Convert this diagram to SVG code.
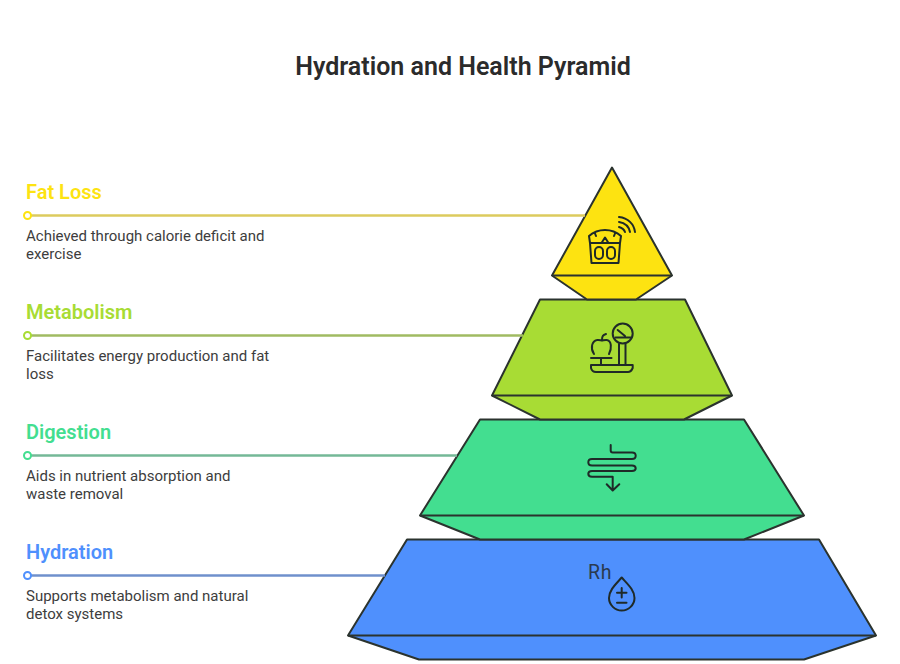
<svg xmlns="http://www.w3.org/2000/svg" width="900" height="664" viewBox="0 0 900 664">
<style>
text{font-family:Roboto,"Liberation Sans",sans-serif}
.title{font-size:25px;font-weight:600;fill:#2b2b2b}
.head{font-size:20px;font-weight:600}
.body{font-size:15px;fill:#3d3d3d}
.rh{font-size:19.500px;fill:#2a3a50;letter-spacing:.8px}
.shape{stroke:#2b332e;stroke-width:2;stroke-linejoin:round}
.icon{fill:none;stroke:#1f2a28;stroke-width:2;stroke-linecap:round;stroke-linejoin:round}
.lead{fill:none;stroke-width:2.500}
.dot{fill:#fff;stroke-width:2}
</style>
<rect width="900" height="664" fill="#fff"/>
<text class="title" x="463" y="75" text-anchor="middle">Hydration and Health Pyramid</text>

<g id="node-hydration">
<path class="shape" fill="#4f90fd" d="M407 539.500H819L876 635.500L804 659.500H419L348 635.500Z"/>
<path class="shape" fill="none" d="M348 635.500H876"/>
<text class="rh" x="588" y="578.500">Rh</text>
<path class="icon" d="M621.700 577.500C616 584 609 590 609 598C609 605 615 610.500 621.700 610.500C628.500 610.500 634.500 605 634.500 598C634.500 590 627.500 584 621.700 577.500Z"/>
<path class="icon" d="M617 592.700H626.500M621.700 588V597.500M617 602.700H626.500"/>
<text class="head" x="26" y="559" fill="#4f90fd">Hydration</text>
<text class="body" x="26" y="601">Supports metabolism and natural</text>
<text class="body" x="26" y="619">detox systems</text>
</g>

<g id="node-digestion">
<path class="shape" fill="#43de90" d="M480 419.500H744L804 515.500L744 539.500H480L420 515.500Z"/>
<path class="shape" fill="none" d="M420 515.500H804"/>
<path class="icon" d="M610.700 445V450.500Q610.700 452.500 612.700 452.500H632Q635.700 452.500 635.700 455.800Q635.700 459 632 459H592Q588.300 459 588.300 462.300Q588.300 465.500 592 465.500H632Q635.700 465.500 635.700 468.300Q635.700 471 632 471H592Q588.300 471 588.300 473.800Q588.300 476.700 592 476.700H612.700V490M606.700 484.300L612.700 490.500L619.300 484.300"/>
<text class="head" x="26" y="439" fill="#43de90">Digestion</text>
<text class="body" x="26" y="481">Aids in nutrient absorption and</text>
<text class="body" x="26" y="499">waste removal</text>
</g>

<g id="node-metabolism">
<path class="shape" fill="#a8dc34" d="M540 299.500H685L732 395.500L684 419.500H540L492 395.500Z"/>
<path class="shape" fill="none" d="M492 395.500H732"/>
<circle class="icon" cx="622.700" cy="333.500" r="10"/>
<path class="icon" d="M617.700 330L625 336M615.500 337.500H631M619 344V364M625.500 344V364"/>
<path class="icon" d="M591 365H632.700V368Q631 372 628 372H596Q592 372 591 368ZM591 358H611.500M601 358V365"/>
<path class="icon" d="M594 354C590 348 592 341 597 340C599 339.500 601 340.500 602 340.500C603 340.500 605 339.500 607 340C611.500 341 612 348 609 354M602 340C602 336 603 335 606 334"/>
<text class="head" x="26" y="319" fill="#a8dc34">Metabolism</text>
<text class="body" x="26" y="361">Facilitates energy production and fat</text>
<text class="body" x="26" y="379">loss</text>
</g>

<g id="node-fat-loss">
<path class="shape" fill="#fde311" d="M612 167.500L672 275.500L636 299.500H587L552 275.500Z"/>
<path class="shape" fill="none" d="M552 275.500H672"/>
<path class="icon" d="M589 236C598 228 612 228 621 236L620 243H590ZM590 243L591.500 263H618.500L620 243M601.500 243L605 237.500L608.500 243M595 233.500L596 236M615 233.500L614 236"/>
<rect class="icon" x="595" y="247" width="8" height="12" rx="4"/>
<rect class="icon" x="607" y="247" width="8" height="12" rx="4"/>
<path class="icon" d="M619 217C628 218 634 224 635 232M619 222C625 223 629 227 630 232M619 227C622 228 624 229 625 232"/>
<text class="head" x="26" y="199" fill="#fde311">Fat Loss</text>
<text class="body" x="26" y="241">Achieved through calorie deficit and</text>
<text class="body" x="26" y="259">exercise</text>
</g>

<g id="connectors">
<path class="lead" stroke="#dccb5e" d="M31 215.500H585"/>
<circle class="dot" stroke="#fde311" cx="27.500" cy="215.500" r="3.500"/>
<path class="lead" stroke="#a0bb62" d="M31 335.500H523"/>
<circle class="dot" stroke="#a8dc34" cx="27.500" cy="335.500" r="3.500"/>
<path class="lead" stroke="#74b897" d="M31 455.500H457"/>
<circle class="dot" stroke="#43de90" cx="27.500" cy="455.500" r="3.500"/>
<path class="lead" stroke="#6f90cc" d="M31 575.500H385"/>
<circle class="dot" stroke="#4f90fd" cx="27.500" cy="575.500" r="3.500"/>
</g>
</svg>
